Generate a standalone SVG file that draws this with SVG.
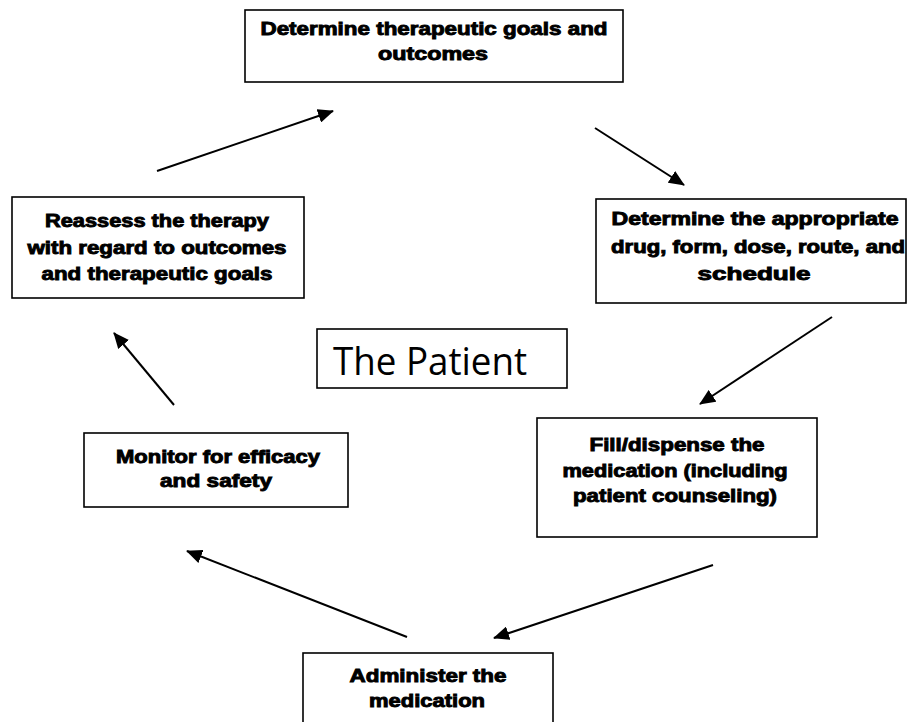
<svg xmlns="http://www.w3.org/2000/svg" width="909" height="722" viewBox="0 0 909 722">
<style>
.box{fill:#fff;stroke:#000;stroke-width:1.6}
.t{font-family:"Liberation Sans",Arial,sans-serif;font-weight:bold;font-size:18px;fill:#000;text-anchor:middle;stroke:#000;stroke-width:0.9}
.p{font-family:"Open Sans","Noto Sans",sans-serif;font-size:38px;fill:#000}
.c{stroke:#000;stroke-width:2;fill:none;marker-end:url(#ah)}
</style>
<defs>
<marker id="ah" markerWidth="8" markerHeight="7" refX="7.5" refY="3.5" orient="auto" markerUnits="strokeWidth">
<path d="M0,0 L8,3.5 L0,7 Z" fill="#000"/>
</marker>
</defs>
<rect width="909" height="722" fill="#fff"/>
<g id="connectors">
<line class="c" x1="157" y1="171" x2="333" y2="111"/>
<line class="c" x1="595" y1="128" x2="684" y2="185"/>
<line class="c" x1="832" y1="317" x2="700" y2="404"/>
<line class="c" x1="713" y1="565" x2="494" y2="638"/>
<line class="c" x1="407" y1="637" x2="187" y2="551"/>
<line class="c" x1="174" y1="405" x2="114" y2="333"/>
</g>
<g id="goals">
<rect class="box" x="245" y="10" width="378" height="72"/>
<text class="t" x="434" y="35" textLength="347" lengthAdjust="spacingAndGlyphs">Determine therapeutic goals and</text>
<text class="t" x="433" y="60" textLength="110" lengthAdjust="spacingAndGlyphs">outcomes</text>
</g>
<g id="reassess">
<rect class="box" x="12" y="197" width="292" height="101"/>
<text class="t" x="157" y="227" textLength="224" lengthAdjust="spacingAndGlyphs">Reassess the therapy</text>
<text class="t" x="157" y="254" textLength="259" lengthAdjust="spacingAndGlyphs">with regard to outcomes</text>
<text class="t" x="157" y="280" textLength="231" lengthAdjust="spacingAndGlyphs">and therapeutic goals</text>
</g>
<g id="drug">
<rect class="box" x="596" y="199" width="310" height="104"/>
<text class="t" x="755" y="225" textLength="287" lengthAdjust="spacingAndGlyphs">Determine the appropriate</text>
<text class="t" x="758" y="253" textLength="294" lengthAdjust="spacingAndGlyphs">drug, form, dose, route, and</text>
<text class="t" x="754" y="280" textLength="113" lengthAdjust="spacingAndGlyphs">schedule</text>
</g>
<g id="patient">
<rect class="box" x="317" y="329" width="250" height="59"/>
<text class="p" x="333" y="375" textLength="194" lengthAdjust="spacingAndGlyphs">The Patient</text>
</g>
<g id="monitor">
<rect class="box" x="84" y="433" width="264" height="74"/>
<text class="t" x="218" y="463" textLength="204" lengthAdjust="spacingAndGlyphs">Monitor for efficacy</text>
<text class="t" x="216" y="487" textLength="112" lengthAdjust="spacingAndGlyphs">and safety</text>
</g>
<g id="fill">
<rect class="box" x="537" y="418" width="280" height="119"/>
<text class="t" x="677" y="451" textLength="175" lengthAdjust="spacingAndGlyphs">Fill/dispense the</text>
<text class="t" x="675" y="477" textLength="225" lengthAdjust="spacingAndGlyphs">medication (including</text>
<text class="t" x="675" y="502" textLength="204" lengthAdjust="spacingAndGlyphs">patient counseling)</text>
</g>
<g id="administer">
<rect class="box" x="303" y="653" width="250" height="80"/>
<text class="t" x="428" y="682" textLength="157" lengthAdjust="spacingAndGlyphs">Administer the</text>
<text class="t" x="427" y="707" textLength="116" lengthAdjust="spacingAndGlyphs">medication</text>
</g>
</svg>
